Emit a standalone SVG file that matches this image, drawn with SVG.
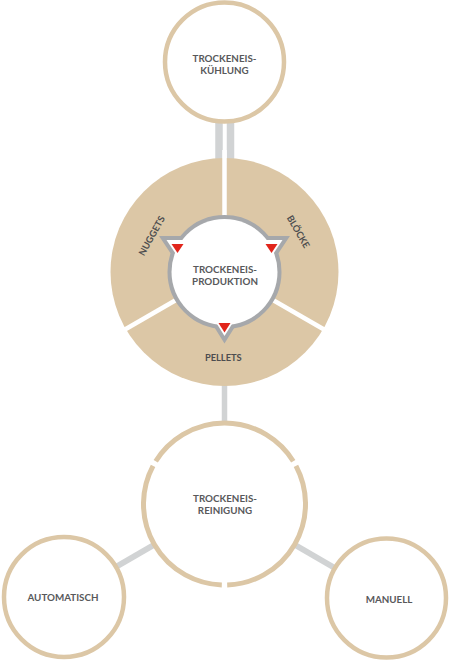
<svg xmlns="http://www.w3.org/2000/svg" width="451" height="663" viewBox="0 0 451 663">
<style>
.conn{stroke:#d1d3d4;fill:none}
.ring{fill:#fff;stroke:#dcc7a6;stroke-width:4.5}
.arc{fill:none;stroke:#dcc7a6;stroke-width:5}
.sep{stroke:#fff;stroke-width:4.5}
.gray{fill:#a6a8ab;stroke:#a6a8ab;stroke-width:8;stroke-linejoin:miter}
.white{fill:#fff}
.red{fill:#e1251b}
.lbl{font-family:Lato,"Open Sans",sans-serif;font-weight:700;font-size:9.8px;fill:#58595b;text-anchor:middle}
.seg{font-family:Lato,"Open Sans",sans-serif;font-weight:700;font-size:9.3px;fill:#4d4d4f;text-anchor:middle}
</style>
<rect width="451" height="663" fill="#fff"/>
<g id="connectors">
<line class="conn" x1="219" y1="118" x2="219" y2="162" stroke-width="7.5"/>
<line class="conn" x1="230.5" y1="118" x2="230.5" y2="162" stroke-width="7.5"/>
<line class="conn" x1="224.5" y1="380" x2="224.5" y2="428" stroke-width="5.5"/>
<line class="conn" x1="224.5" y1="504" x2="64" y2="597" stroke-width="6"/>
<line class="conn" x1="224.5" y1="504" x2="386.5" y2="598" stroke-width="6"/>
</g>
<g id="kuehlung">
<circle class="ring" cx="224.5" cy="62" r="59.5"/>
<text class="lbl" x="224.5" y="61.8">TROCKENEIS-</text>
<text class="lbl" x="224.5" y="73.8">KÜHLUNG</text>
</g>
<g id="produktion">
<circle cx="224.5" cy="272" r="114" fill="#dcc7a6"/>
<line class="sep" x1="224.5" y1="272" x2="224.5" y2="150"/>
<line class="sep" x1="224.5" y1="272" x2="327.5" y2="331.5"/>
<line class="sep" x1="224.5" y1="272" x2="121.5" y2="331.5"/>
<circle cx="224.5" cy="272" r="53" fill="#a6a8ab" stroke="#a6a8ab" stroke-width="8"/>
<polygon class="gray" points="166.5,240 188.5,240 177.5,256.5"/>
<polygon class="gray" points="260.5,240 282.5,240 271.5,256.5"/>
<polygon class="gray" points="213.9,319 235.1,319 224.5,336"/>
<circle class="white" cx="224.5" cy="272" r="53"/>
<polygon class="white" points="166.5,240 188.5,240 177.5,256.5"/>
<polygon class="white" points="260.5,240 282.5,240 271.5,256.5"/>
<polygon class="white" points="213.9,319 235.1,319 224.5,336"/>
<polygon class="red" points="171.5,244 183.5,244 177.5,253"/>
<polygon class="red" points="265.5,244 277.5,244 271.5,253"/>
<polygon class="red" points="218.5,323 230.5,323 224.5,332.5"/>
<text class="lbl" x="225" y="273">TROCKENEIS-</text>
<text class="lbl" x="225" y="285">PRODUKTION</text>
<text class="seg" transform="translate(151.7,235.8) rotate(-61)" x="0" y="3.3">NUGGETS</text>
<text class="seg" transform="translate(298.3,231.7) rotate(60)" x="0" y="3.3">BLÖCKE</text>
<text class="seg" x="223.3" y="360.5">PELLETS</text>
</g>
<g id="reinigung">
<circle class="white" cx="224.5" cy="504" r="81"/>
<path class="arc" d="M155.73,461.2 A81,81 0 0 1 293.27,461.2"/>
<path class="arc" d="M295.95,465.85 A81,81 0 0 1 227.19,584.96"/>
<path class="arc" d="M221.81,584.96 A81,81 0 0 1 153.05,465.85"/>
<text class="lbl" x="225" y="501.5">TROCKENEIS-</text>
<text class="lbl" x="225" y="513.8">REINIGUNG</text>
</g>
<g id="automatisch">
<circle class="ring" cx="64" cy="597" r="60"/>
<text class="lbl" x="63" y="601">AUTOMATISCH</text>
</g>
<g id="manuell">
<circle class="ring" cx="386.5" cy="598" r="59.5"/>
<text class="lbl" x="389" y="603">MANUELL</text>
</g>
</svg>
